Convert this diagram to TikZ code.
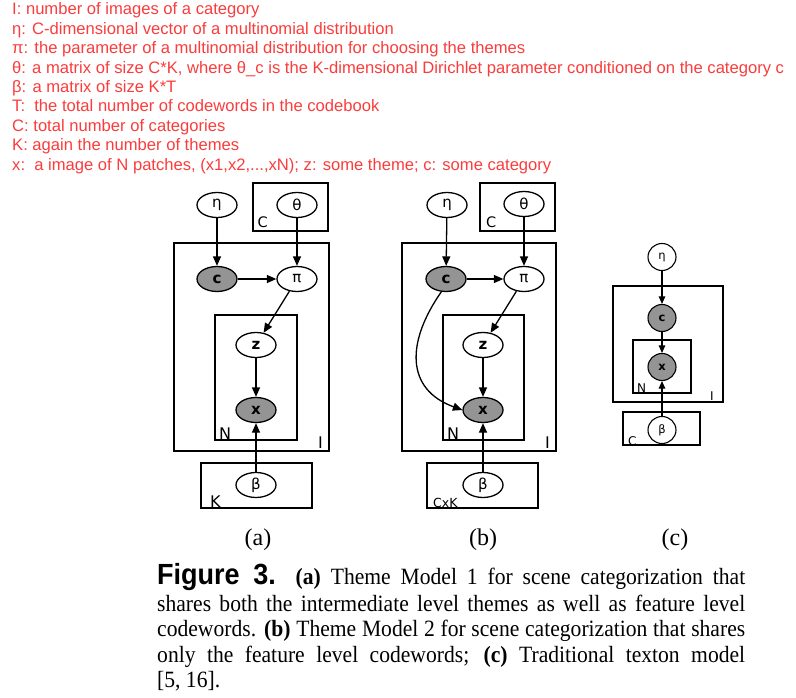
\documentclass[tikz,border=0pt]{standalone}
\usepackage{fontspec}
\setmainfont{Liberation Serif}
\setsansfont{Liberation Sans}
\newfontfamily\dv{DejaVu Sans}
\usetikzlibrary{shapes.geometric,arrows.meta}
\definecolor{redtxt}{RGB}{250,60,60}
\definecolor{obs}{RGB}{148,148,148}
\begin{document}
\begin{tikzpicture}[x=1pt,y=1pt,
  var/.style={ellipse,draw,line width=1.3pt,minimum width=40pt,minimum height=25pt,inner sep=0pt,font=\dv\fontsize{15}{15}\selectfont},
  ob/.style={var,fill=obs},
  svar/.style={ellipse,draw,line width=1.1pt,minimum width=28pt,minimum height=27pt,inner sep=0pt,font=\dv\fontsize{11.5}{11.5}\selectfont},
  sob/.style={svar,fill=obs},
  plate/.style={draw,line width=1.3pt},
  arr/.style={-{Triangle[length=9.5pt,width=8pt]},line width=1.3pt},
  sarr/.style={-{Triangle[length=7.5pt,width=6.5pt]},line width=1.1pt},
  plab/.style={anchor=base west,inner sep=0pt,font=\dv\fontsize{#1}{#1}\selectfont},
  redline/.style={anchor=base west,inner sep=0pt,text=redtxt,font=\sffamily\fontsize{16.6}{16.6}\selectfont},
  capline/.style={anchor=base west,inner sep=0pt,font=\rmfamily\fontsize{21.6}{21.6}\selectfont},
  sublab/.style={anchor=base,inner sep=0pt,font=\rmfamily\fontsize{24}{24}\selectfont}
]
\useasboundingbox (0,0) rectangle (796,-698);

% ---------- red legend ----------
\node[redline] (l1) at (12,-15) {I: number of images of a category};
\node[redline] (l2) at (12,-34.4) {η: C-dimensional vector of a multinomial distribution};
\node[redline] (l3) at (12,-53.8) {π: the parameter of a multinomial distribution for choosing the themes};
\node[redline] (l4) at (12,-73.2) {θ: a matrix of size C*K, where θ\_c is the K-dimensional Dirichlet parameter conditioned on the category c};
\node[redline] (l5) at (12,-92.6) {β: a matrix of size K*T};
\node[redline] (l6) at (12,-112) {T:\ \ the total number of codewords in the codebook};
\node[redline] (l7) at (12,-131.4) {C: total number of categories};
\node[redline] (l8) at (12,-150.8) {K: again the number of themes};
\node[redline] (l9) at (12,-170.2) {x:\ \ a image of N patches, (x1,x2,...,xN); z: some theme; c: some category};

% ---------- model (a) ----------
\draw[plate] (253,-183) rectangle (328,-231);
\draw[plate] (174,-243) rectangle (329,-451);
\draw[plate] (215,-315) rectangle (297,-440);
\draw[plate] (201,-463) rectangle (312,-508);
\node[var] (etaA) at (217,-205) {η};
\node[var] (thA) at (297,-205) {θ};
\node[ob] (cA) at (217,-279) {\bfseries c};
\node[var] (piA) at (297,-279) {π};
\node[var] (zA) at (256,-345) {\bfseries z};
\node[ob] (xA) at (256,-410) {\bfseries x};
\node[var] (bA) at (256,-485) {β};
\node[plab=14.5] (CA) at (257.5,-228) {C};
\node[plab=16] (NA) at (219,-439) {N};
\node[plab=16] (IA) at (318,-448) {I};
\node[plab=16] (KA) at (210,-507) {K};
\draw[arr] (etaA) -- (cA);
\draw[arr] (thA) -- (piA);
\draw[arr] (cA) -- (piA);
\draw[arr] (piA) -- (zA);
\draw[arr] (zA) -- (xA);
\draw[arr] (bA) -- (xA);

% ---------- model (b) ----------
\draw[plate] (480,-183) rectangle (555,-231);
\draw[plate] (402,-243) rectangle (556,-451);
\draw[plate] (443,-315) rectangle (524,-440);
\draw[plate] (427,-463) rectangle (538,-508);
\node[var] (etaB) at (447,-205) {η};
\node[var] (thB) at (524,-204) {θ};
\node[ob] (cB) at (446,-279) {\bfseries c};
\node[var] (piB) at (524,-279) {π};
\node[var] (zB) at (483,-345) {\bfseries z};
\node[ob] (xB) at (483,-410) {\bfseries x};
\node[var] (bB) at (483,-485) {β};
\node[plab=14.5] (CB) at (486,-228) {C};
\node[plab=16] (NB) at (447,-439) {N};
\node[plab=16] (IB) at (545,-448) {I};
\node[plab=12.5] (KB) at (433,-507) {CxK};
\draw[arr] (etaB) -- (cB);
\draw[arr] (thB) -- (piB);
\draw[arr] (cB) -- (piB);
\draw[arr] (piB) -- (zB);
\draw[arr] (zB) -- (xB);
\draw[arr] (bB) -- (xB);
\draw[arr] (cB.250) to[out=235,in=160,looseness=1.3] (xB.west);

% ---------- model (c) ----------
\draw[plate] (613,-286) rectangle (723,-402);
\draw[plate] (633,-340) rectangle (691,-393);
\draw[plate] (623,-412) rectangle (700,-445);
\node[svar] (etaC) at (662,-257) {η};
\node[sob] (cC) at (662,-318) {\bfseries c};
\node[sob] (xC) at (662,-367) {\bfseries x};
\node[svar] (bC) at (662,-430) {β};
\node[plab=12] (NC) at (637,-392) {N};
\node[plab=12] (IC) at (710,-400) {I};
\node[plab=12] (CC) at (628,-445) {C};
\draw[sarr] (etaC) -- (cC);
\draw[sarr] (cC) -- (xC);
\draw[sarr] (bC) -- (xC);

% ---------- sub labels ----------
\node[sublab] (sa) at (258,-545) {(a)};
\node[sublab] (sb) at (483,-545) {(b)};
\node[sublab] (sc) at (675,-545) {(c)};

% ---------- caption ----------
\node[capline] (c1) at (157,-584) {\scalebox{1}[1.08]{\makebox[588pt][s]{{\sffamily\bfseries\fontsize{27}{27}\selectfont Figure 3.}\ \ \textbf{(a)} Theme Model 1 for scene categorization that}}};
\node[capline] (c2) at (157,-611) {\scalebox{1}[1.08]{\makebox[588pt][s]{shares both the intermediate level themes as well as feature level}}};
\node[capline] (c3) at (157,-636.5) {\scalebox{1}[1.08]{\makebox[588pt][s]{codewords. \textbf{(b)} Theme Model 2 for scene categorization that shares}}};
\node[capline] (c4) at (157,-662) {\scalebox{1}[1.08]{\makebox[588pt][s]{only the feature level codewords; \textbf{(c)} Traditional texton model}}};
\node[capline] (c5) at (157,-687.5) {\scalebox{1}[1.08]{[5, 16].}};
\end{tikzpicture}
\end{document}
